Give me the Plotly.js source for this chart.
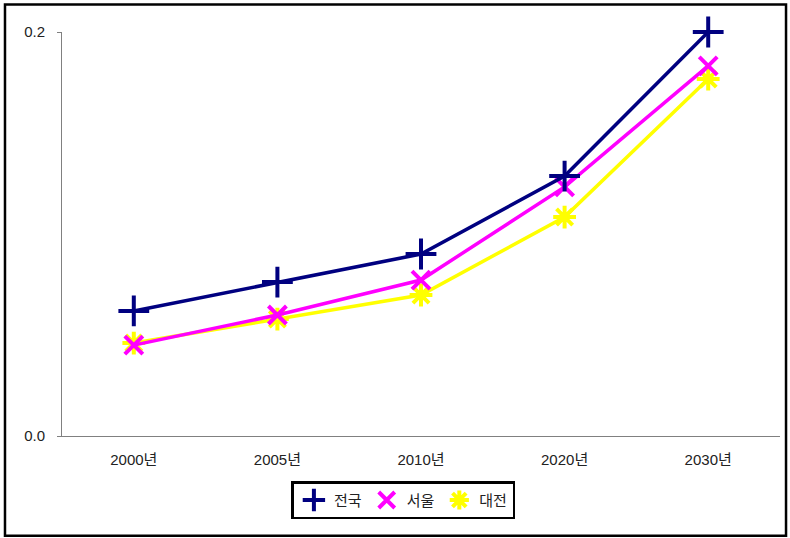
<!DOCTYPE html>
<html>
<head>
<meta charset="utf-8">
<script src="https://cdn.plot.ly/plotly-3.0.1.min.js"></script>
<style>
html,body{margin:0;padding:0;background:#fff;}
#chart{width:790px;height:538px;}
</style>
</head>
<body>
<div id="chart"></div>
<script>
var categories = ["2000년", "2005년", "2010년", "2020년", "2030년"];
var seriesNames = ["전국", "서울", "대전"];
var valuesNational = [0.0619, 0.0762, 0.0901, 0.1287, 0.2000];
var valuesSeoul = [0.0450, 0.0599, 0.0772, 0.1233, 0.1832];
var valuesDaejeon = [0.0460, 0.0579, 0.0698, 0.1084, 0.1767];
var yTickValues = [0, 0.2];
var yTickLabels = ["0.0", "0.2"];

var colors = ["#000080", "#FF00FF", "#FFFF00"];
var symbols = ["cross-thin-open", "x-thin-open", "asterisk-open"];
var sizes = [22, 18, 19];
var allValues = [valuesNational, valuesSeoul, valuesDaejeon];

var traces = [];
// draw order: 대전, 서울, 전국
[2, 1, 0].forEach(function (i) {
  traces.push({
    x: categories,
    y: allValues[i],
    type: "scatter",
    mode: "lines+markers",
    name: seriesNames[i],
    showlegend: false,
    cliponaxis: false,
    line: {color: colors[i], width: 3.5},
    marker: {symbol: symbols[i], size: sizes[i], color: colors[i],
             line: {color: colors[i], width: 4}}
  });
});
// legend-only marker entries
[0, 1, 2].forEach(function (i) {
  traces.push({
    x: [null],
    y: [null],
    type: "scatter",
    mode: "markers",
    name: seriesNames[i],
    showlegend: true,
    marker: {symbol: symbols[i], size: 17, color: colors[i],
             line: {color: colors[i], width: 4}}
  });
});

var fontFam = "'Liberation Sans', 'Noto Sans CJK KR', sans-serif";

var layout = {
  width: 790,
  height: 538,
  margin: {l: 62, r: 10, t: 32, b: 102},
  paper_bgcolor: "#ffffff",
  plot_bgcolor: "#ffffff",
  font: {family: fontFam, size: 15, color: "#222"},
  showlegend: true,
  xaxis: {
    type: "category",
    range: [-0.5, 4.5],
    showgrid: false,
    zeroline: false,
    showline: true,
    linecolor: "#808080",
    linewidth: 1,
    ticks: "",
    ticklabelstandoff: 10,
    tickfont: {family: fontFam, size: 15, color: "#222"},
    fixedrange: true
  },
  yaxis: {
    range: [0, 0.2],
    showgrid: false,
    zeroline: false,
    showline: true,
    linecolor: "#808080",
    linewidth: 1,
    ticks: "outside",
    ticklen: 4,
    tickcolor: "#808080",
    ticklabelstandoff: 9,
    tickmode: "array",
    tickvals: yTickValues,
    ticktext: yTickLabels,
    tickfont: {family: fontFam, size: 15, color: "#222"},
    fixedrange: true
  },
  legend: {
    orientation: "h",
    x: 0.4755,
    xanchor: "center",
    y: -0.112,
    yanchor: "top",
    bordercolor: "#000000",
    borderwidth: 2.5,
    bgcolor: "#ffffff",
    font: {family: fontFam, size: 15, color: "#222"},
    itemwidth: 30,
    tracegroupgap: 0
  },
  shapes: [{
    type: "rect",
    xref: "paper", yref: "paper",
    x0: -0.0794, x1: 1.0084,
    y0: -0.247, y1: 1.068,
    line: {color: "#000000", width: 2.5},
    fillcolor: "rgba(0,0,0,0)",
    layer: "below"
  }]
};

Plotly.newPlot("chart", traces, layout, {displayModeBar: false, staticPlot: true});
</script>
</body>
</html>
